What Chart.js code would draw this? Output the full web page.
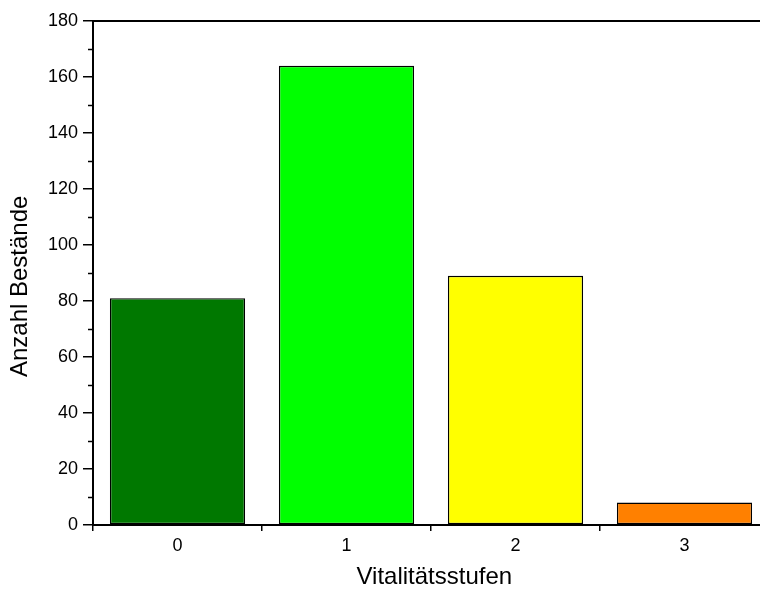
<!DOCTYPE html>
<html>
<head>
<meta charset="utf-8">
<script src="https://cdn.jsdelivr.net/npm/chart.js@4"></script>
<style>
  html, body { margin: 0; padding: 0; background: #fff; overflow: hidden; }
  #wrap { width: 800px; height: 589px; }
</style>
</head>
<body>
<div id="wrap"><canvas id="vitChart" width="800" height="589"></canvas></div>
<script>
// Data
const categories = ["0", "1", "2", "3"];
const counts = [81, 164, 89, 8];
const barColors = ["#007800", "#00ff00", "#ffff00", "#ff8000"];
const minorTicks = [10, 30, 50, 70, 90, 110, 130, 150, 170];

const FONT = "'Liberation Sans', Arial, sans-serif";

// extra axis bits: frame line on top + minor ticks on y
const axisExtras = {
  id: "axisExtras",
  afterDraw(chart) {
    const ctx = chart.ctx;
    const area = chart.chartArea;
    const y = chart.scales.y;
    ctx.save();
    ctx.strokeStyle = "#000";
    ctx.lineWidth = 2;
    ctx.beginPath();
    ctx.moveTo(area.left, area.top);
    ctx.lineTo(area.right, area.top);
    ctx.stroke();
    ctx.lineWidth = 1.5;
    minorTicks.forEach(v => {
      const py = Math.round(y.getPixelForValue(v)) + 0.5;
      ctx.beginPath();
      ctx.moveTo(area.left - 5, py);
      ctx.lineTo(area.left, py);
      ctx.stroke();
    });
    ctx.restore();
  }
};

new Chart(document.getElementById("vitChart").getContext("2d"), {
  type: "bar",
  data: {
    labels: categories,
    datasets: [{
      data: counts,
      backgroundColor: barColors,
      borderColor: "#000",
      borderWidth: 1.4,
      borderSkipped: false,
      categoryPercentage: 0.8,
      barPercentage: 1.0
    }]
  },
  options: {
    responsive: false,
    animation: false,
    layout: { padding: { top: 21, right: 31, left: 0, bottom: 0 } },
    plugins: {
      legend: { display: false },
      tooltip: { enabled: false }
    },
    scales: {
      x: {
        afterFit(scale) { scale.height = 64; },
        border: { color: "#000", width: 2 },
        grid: {
          offset: true,
          drawOnChartArea: false,
          color: "#000",
          tickColor: "#000",
          tickLength: 6,
          lineWidth: 1.5
        },
        ticks: {
          color: "#000",
          padding: 4,
          font: { family: FONT, size: 18 }
        },
        title: {
          display: true,
          // leading space nudges the centred title a little to the right
          text: " Vitalitätsstufen",
          color: "#000",
          padding: { top: 0, bottom: 0 },
          font: { family: FONT, size: 24, lineHeight: 1.0 }
        }
      },
      y: {
        min: 0,
        max: 180,
        afterFit(scale) { scale.width = 93; },
        border: { color: "#000", width: 2 },
        grid: {
          drawOnChartArea: false,
          color: "#000",
          tickColor: "#000",
          tickLength: 10,
          lineWidth: 1.5
        },
        ticks: {
          stepSize: 20,
          color: "#000",
          padding: 5,
          font: { family: FONT, size: 18 }
        },
        title: {
          display: true,
          // trailing spaces push the rotated title down a bit, like the original
          text: "Anzahl Bestände    ",
          color: "#000",
          padding: { top: 8, bottom: 0 },
          font: { family: FONT, size: 24, lineHeight: 1.0 }
        }
      }
    }
  },
  plugins: [axisExtras]
});
</script>
</body>
</html>
